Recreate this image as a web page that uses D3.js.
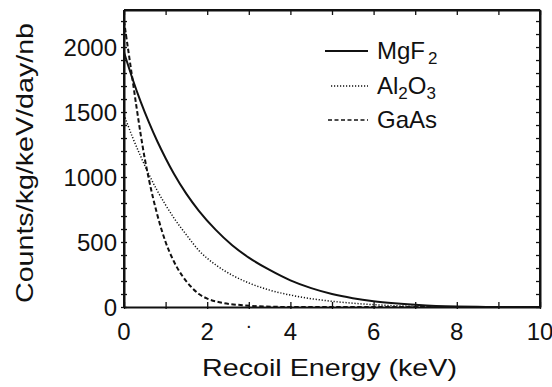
<!DOCTYPE html>
<html>
<head>
<meta charset="utf-8">
<script src="https://cdn.jsdelivr.net/npm/d3@7"></script>
<style>
  html, body { margin: 0; padding: 0; background: #fff; }
  svg { display: block; }
  text { font-family: "Liberation Sans", Arial, sans-serif; fill: #111; }
</style>
</head>
<body>
<svg id="chart" width="552" height="387"></svg>
<script>
// ---- data ----
const energyMgF2 = [0, 0.2, 0.4, 0.6, 0.8, 1.0, 1.2, 1.5, 1.8, 2.2, 2.6, 3.0, 3.5, 4.0, 4.5, 5.0, 5.5, 6.0, 6.5, 7.0, 7.5, 8.0, 8.5, 9.0, 10];
const countsMgF2 = [1960, 1760, 1580, 1420, 1275, 1145, 1025, 870, 740, 595, 475, 380, 285, 205, 145, 100, 68, 45, 29, 17, 8, 3, 1, 0, 0];

const energyAl2O3 = [0, 0.2, 0.4, 0.6, 0.8, 1.0, 1.2, 1.5, 1.8, 2.2, 2.6, 3.0, 3.5, 4.0, 4.5, 5.0, 5.5, 6.0, 6.5, 7.0, 7.5, 8.0, 10];
const countsAl2O3 = [1480, 1310, 1160, 1020, 895, 785, 685, 555, 435, 325, 245, 185, 130, 92, 64, 44, 29, 18, 10, 4.5, 1.5, 0, 0];

const energyGaAs = [0, 0.1, 0.2, 0.3, 0.4, 0.5, 0.6, 0.8, 1.0, 1.2, 1.4, 1.6, 1.8, 2.0, 2.4, 2.8, 3.2, 3.6, 4.0, 10];
const countsGaAs = [2200, 1980, 1760, 1540, 1330, 1140, 980, 710, 500, 350, 240, 160, 100, 65, 30, 15, 6, 2, 0, 0];

const seriesNames = ["MgF", "Al", "GaAs"];
const xTickLabels = [0, 2, 4, 6, 8, 10];
const yTickLabels = [0, 500, 1000, 1500, 2000];
const xLabel = "Recoil Energy (keV)";
const yLabel = "Counts/kg/keV/day/nb";

// ---- layout ----
const svg = d3.select("#chart");
const L = 124, R = 540, T = 10, B = 307;
const x = d3.scaleLinear().domain([0, 10]).range([L, R]);
const y = d3.scaleLinear().domain([0, 2285]).range([B, T]);

const minorX = d3.range(0, 11, 1);
const minorY = d3.range(0, 2201, 100);

function styleAxis(g) {
  g.select(".domain").attr("stroke", "#111").attr("stroke-width", 2);
  g.selectAll(".tick line").attr("stroke", "#111").attr("stroke-width", 1.3);
}
// bottom: inward ticks + small outward
svg.append("g").attr("transform", `translate(0,${B})`)
  .call(d3.axisBottom(x).tickValues(minorX).tickSize(-5).tickSizeOuter(0).tickFormat(""))
  .call(styleAxis);
svg.append("g").attr("transform", `translate(0,${B})`)
  .call(d3.axisBottom(x).tickValues(minorX).tickSize(2).tickSizeOuter(0).tickFormat(""))
  .call(g => g.select(".domain").remove())
  .call(g => g.selectAll(".tick line").attr("stroke", "#111").attr("stroke-width", 1.3));
// top
svg.append("g").attr("transform", `translate(0,${T})`)
  .call(d3.axisTop(x).tickValues(minorX).tickSize(-5).tickSizeOuter(0).tickFormat(""))
  .call(styleAxis);
// left: crossing ticks
svg.append("g").attr("transform", `translate(${L},0)`)
  .call(d3.axisLeft(y).tickValues(minorY).tickSize(3).tickSizeOuter(0).tickFormat(""))
  .call(styleAxis);
svg.append("g").attr("transform", `translate(${L},0)`)
  .call(d3.axisLeft(y).tickValues(minorY).tickSize(-3).tickSizeOuter(0).tickFormat(""))
  .call(g => g.select(".domain").remove())
  .call(g => g.selectAll(".tick line").attr("stroke", "#111").attr("stroke-width", 1.3));
// right: inward ticks
svg.append("g").attr("transform", `translate(${R},0)`)
  .call(d3.axisRight(y).tickValues(minorY).tickSize(-4).tickSizeOuter(0).tickFormat(""))
  .call(styleAxis);
// full frame
svg.append("line").attr("x1", L).attr("x2", L).attr("y1", T).attr("y2", B).attr("stroke", "#111").attr("stroke-width", 2);
svg.append("line").attr("x1", R).attr("x2", R).attr("y1", T).attr("y2", B).attr("stroke", "#111").attr("stroke-width", 2);
svg.append("line").attr("x1", L).attr("x2", R).attr("y1", T).attr("y2", T).attr("stroke", "#111").attr("stroke-width", 2);

// tick labels
svg.append("g").selectAll("text").data(yTickLabels).join("text")
  .attr("x", L - 7).attr("y", d => y(d) + 8.5)
  .attr("text-anchor", "end").attr("font-size", 24).text(d => d);
svg.append("g").selectAll("text").data(xTickLabels).join("text")
  .attr("x", d => x(d)).attr("y", 340)
  .attr("text-anchor", "middle").attr("font-size", 24).text(d => d);
// stray dot in the original scan
svg.append("text").attr("x", x(3)).attr("y", 332).attr("text-anchor", "middle")
  .attr("font-size", 20).text("·");

// axis titles
svg.append("text").attr("x", (202 + 457) / 2).attr("y", 376)
  .attr("text-anchor", "middle").attr("font-size", 24)
  .attr("textLength", 255).attr("lengthAdjust", "spacingAndGlyphs").text(xLabel);
svg.append("text").attr("transform", `translate(33,163) rotate(-90)`)
  .attr("text-anchor", "middle").attr("font-size", 24)
  .attr("textLength", 280).attr("lengthAdjust", "spacingAndGlyphs").text(yLabel);

// curves
const line = d3.line().x(d => x(d[0])).y(d => y(d[1])).curve(d3.curveMonotoneX);
svg.append("clipPath").attr("id", "clip").append("rect")
  .attr("x", L).attr("y", T).attr("width", R - L).attr("height", B - T);
const curves = [
  { xs: energyMgF2, ys: countsMgF2, dash: null, w: 2 },
  { xs: energyAl2O3, ys: countsAl2O3, dash: "1.2,1.8", w: 1.5 },
  { xs: energyGaAs, ys: countsGaAs, dash: "4.5,2.5", w: 2 }
];
const gc = svg.append("g").attr("clip-path", "url(#clip)");
curves.forEach(c => {
  gc.append("path").datum(c.xs.map((v, i) => [v, c.ys[i]]))
    .attr("d", line).attr("fill", "none").attr("stroke", "#111")
    .attr("stroke-width", c.w).attr("stroke-dasharray", c.dash);
});

// legend
const legRows = [
  { y: 51, x1: 325, dash: null, w: 2, name: seriesNames[0], sub: "2", tail: "" },
  { y: 86, x1: 331, dash: "1.2,1.8", w: 1.5, name: seriesNames[1], sub: "2", tail: "O", sub2: "3" },
  { y: 120, x1: 328, dash: "4,2.5", w: 1.6, name: seriesNames[2], sub: null, tail: "" }
];
legRows.forEach(r => {
  svg.append("line").attr("x1", r.x1).attr("x2", 368).attr("y1", r.y).attr("y2", r.y)
    .attr("stroke", "#111").attr("stroke-width", r.w).attr("stroke-dasharray", r.dash);
  const t = svg.append("text").attr("x", 377).attr("y", r.y + 8).attr("font-size", 24);
  t.append("tspan").text(r.name);
  if (r.sub) t.append("tspan").attr("font-size", 17).attr("dy", 5).attr("dx", r.tail ? 0 : 3).text(r.sub);
  if (r.tail) t.append("tspan").attr("dy", -5).text(r.tail);
  if (r.sub2) t.append("tspan").attr("font-size", 17).attr("dy", 5).text(r.sub2);
});
</script>
</body>
</html>
